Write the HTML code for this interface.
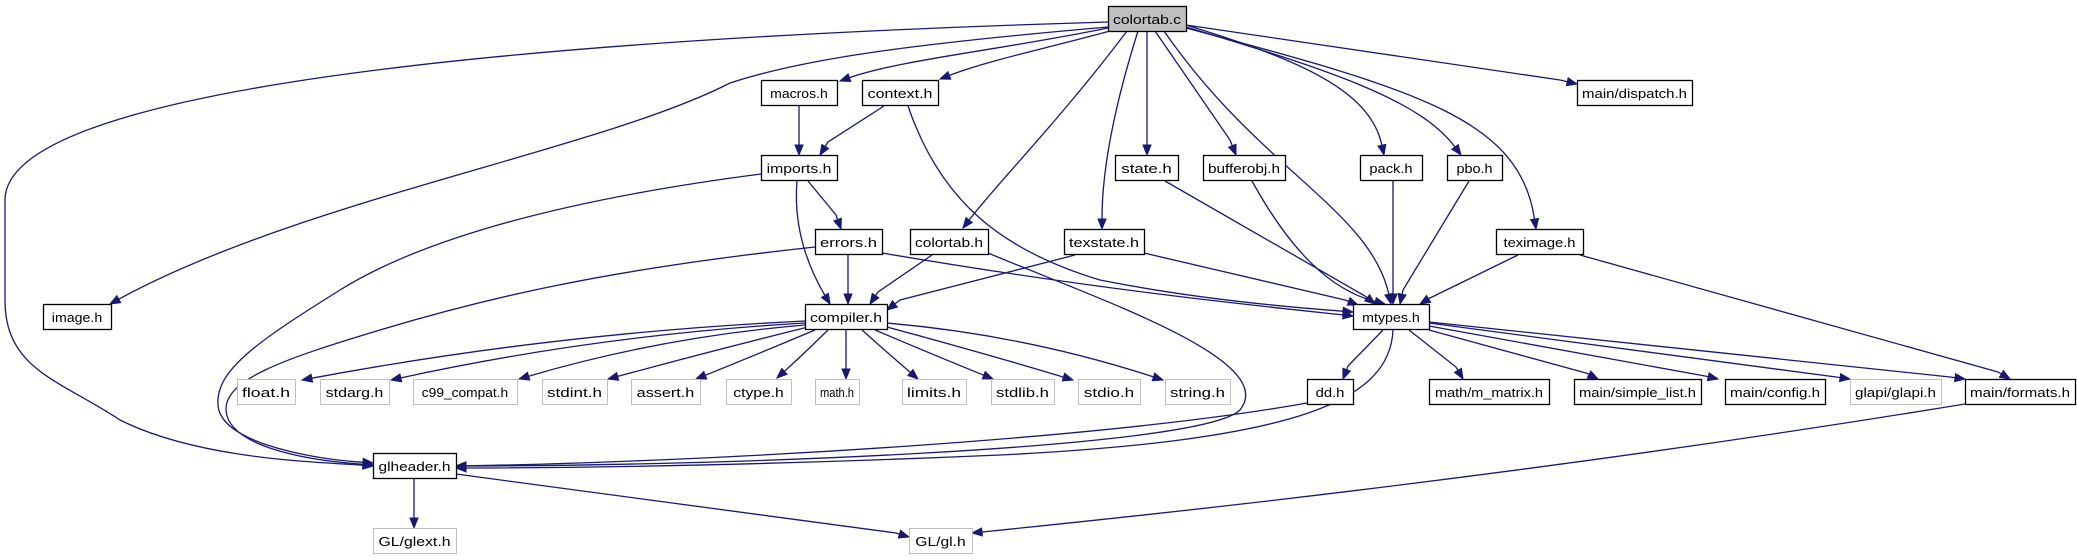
<!DOCTYPE html>
<html><head><meta charset="utf-8"><style>
html,body{margin:0;padding:0;background:#fff;}
svg{display:block}
text{font-family:"Liberation Sans",sans-serif;font-size:13px;fill:#000}
</style></head><body>
<svg id="s" width="2077" height="560" viewBox="0 0 2077 560" xmlns="http://www.w3.org/2000/svg"></svg>
<script>
const S=document.getElementById('s');
const NS='http://www.w3.org/2000/svg';
function el(t,a,txt){const e=document.createElementNS(NS,t);for(const k in a)e.setAttribute(k,a[k]);if(txt)e.textContent=txt;S.appendChild(e);return e;}
const C='#191970';
const E=[
["M1108,22 C500,40 5,90 5,200 L5,300 C5,370 60,380 120,420 C200,460 320,462",[373,466]],
["M1108,27 C900,45 800,60 730,83 C600,150 300,200",[110,304]],
["M1108,28 C1000,50 900,60",[840,81]],
["M1110,31 C1040,50 990,60",[940,79]],
["M1127,31 C1060,120 1000,180",[963,228]],
["M1138,31 C1110,120 1102,180",[1102,229]],
["M1147,31 L1147,140",[1147,155]],
["M1155,31 L1230,140",[1236,155]],
["M1164,31 C1260,170 1370,210",[1391,304]],
["M1186,25 C1300,60 1370,90",[1384,155]],
["M1186,27 C1330,70 1420,100",[1461,155]],
["M1186,28 C1420,90 1520,120",[1536,229]],
["M1186,25 L1560,80",[1577,84]],
["M799,106 L799,140",[799,155]],
["M884,106 L828,142",[820,155]],
["M908,106 C940,200 1000,250 1100,280 C1200,300 1300,308",[1353,312]],
["M808,181 L836,215",[841,229]],
["M797,181 C793,230 810,270",[830,304]],
["M761,174 C560,200 420,240 340,290 C260,340 215,370 218,405 C220,440 300,458",[373,463]],
["M848,255 L848,290",[848,304]],
["M882,253 C1100,290 1250,305",[1353,316]],
["M815,247 C600,270 480,300 380,330 C280,360 225,380 226,410 C228,445 300,460",[373,465]],
["M932,255 L878,292",[870,304]],
["M988,253 C1100,300 1280,360 1240,410 C1200,450 700,466",[456,466]],
["M1075,255 L900,300",[887,310]],
["M1144,253 L1345,300",[1358,305]],
["M1165,181 L1365,296",[1375,304]],
["M1252,181 C1290,250 1330,290",[1385,304]],
["M1393,181 L1393,290",[1393,304]],
["M1469,181 L1403,290",[1400,304]],
["M1518,255 L1430,298",[1420,304]],
["M1580,255 L1998,372",[2010,379]],
["M1383,330 L1348,366",[1343,379]],
["M1393,330 C1390,400 1300,440 1000,455 C700,468 500,468",[456,468]],
["M1409,330 L1456,367",[1463,379]],
["M1429,330 L1586,373",[1598,379]],
["M1429,326 L1705,376",[1718,379]],
["M1429,323 L1836,377",[1850,379]],
["M1429,322 L1950,377",[1965,379]],
["M1307,403 C1100,440 700,462",[456,466]],
["M414,479 L414,515",[414,528]],
["M456,474 L896,533",[909,537]],
["M1965,404 C1500,480 1100,520",[972,533]],
];
const sys=[[[805,321],[302,380]],[[805,323],[391,380]],[[805,325],[519,379]],[[808,327],[608,379]],[[815,330],[696,379]],[[828,330],[777,378]],[[846,330],[846,379]],[[862,330],[918,379]],[[875,330],[993,379]],[[887,327],[1073,380]],[[887,323],[1163,380]]];
sys.forEach(([[sx,sy],[x,y]])=>{
 const cx=(sx+x)/2, cy=Math.min(sy,y)+ (Math.abs(x-sx)>200?12:25);E.push([`M${sx},${sy} Q${cx},${cy}`,[x,y]]);});
E.forEach(([d,[ex,ey]])=>{
 const nums=d.match(/-?\d+(\.\d+)?/g).map(Number);
 const px=nums[nums.length-2],py=nums[nums.length-1];
 let dx=ex-px,dy=ey-py;const L=Math.hypot(dx,dy)||1;dx/=L;dy/=L;
 const bx=ex-dx*10,by=ey-dy*10;
 el('path',{d:d+` ${bx.toFixed(1)},${by.toFixed(1)}`,fill:'none',stroke:C,'stroke-width':1.3});
 el('polygon',{points:`${ex},${ey} ${bx-dy*4},${by+dx*4} ${bx+dy*4},${by-dx*4}`,fill:C,stroke:C});
});
const N=[
["colortab.c",1108,1186,6,2],["macros.h",761,837,80,0],["context.h",862,938,80,0],["main/dispatch.h",1577,1692,80,0],
["imports.h",761,837,155,0],["state.h",1115,1178,155,0],["bufferobj.h",1203,1285,155,0],["pack.h",1360,1422,155,0],["pbo.h",1447,1502,155,0],
["errors.h",815,882,229,0],["colortab.h",910,988,229,0],["texstate.h",1064,1144,229,0],["teximage.h",1496,1583,229,0],
["image.h",43,111,304,0],["compiler.h",805,887,304,0],["mtypes.h",1353,1429,304,0],
["float.h",237,295,379,1],["stdarg.h",320,389,379,1],["c99_compat.h",413,517,379,1],["stdint.h",542,607,379,1],["assert.h",631,700,379,1],
["ctype.h",726,791,379,1],["math.h",815,859,379,1],["limits.h",902,966,379,1],["stdlib.h",991,1054,379,1],["stdio.h",1078,1140,379,1],["string.h",1165,1230,379,1],
["dd.h",1307,1353,379,0],["math/m_matrix.h",1429,1549,379,0],["main/simple_list.h",1574,1701,379,0],["main/config.h",1725,1825,379,0],
["glapi/glapi.h",1850,1941,379,1],["main/formats.h",1965,2075,379,0],
["glheader.h",373,456,453,0],["GL/glext.h",373,456,528,1],["GL/gl.h",909,972,528,1]];
N.forEach(([t,x1,x2,y,k])=>{
 el('rect',{x:x1+.5,y:y+.5,width:x2-x1,height:25,fill:k==2?'#bfbfbf':'#fff',stroke:k==1?'#bfbfbf':'#000','stroke-width':k==1?1:1.3});
 el('text',{x:(x1+x2)/2,y:y+18,'text-anchor':'middle',textLength:Math.min(x2-x1-10,t.length*7.2),lengthAdjust:'spacingAndGlyphs'},t);
});
</script>
</body></html>
